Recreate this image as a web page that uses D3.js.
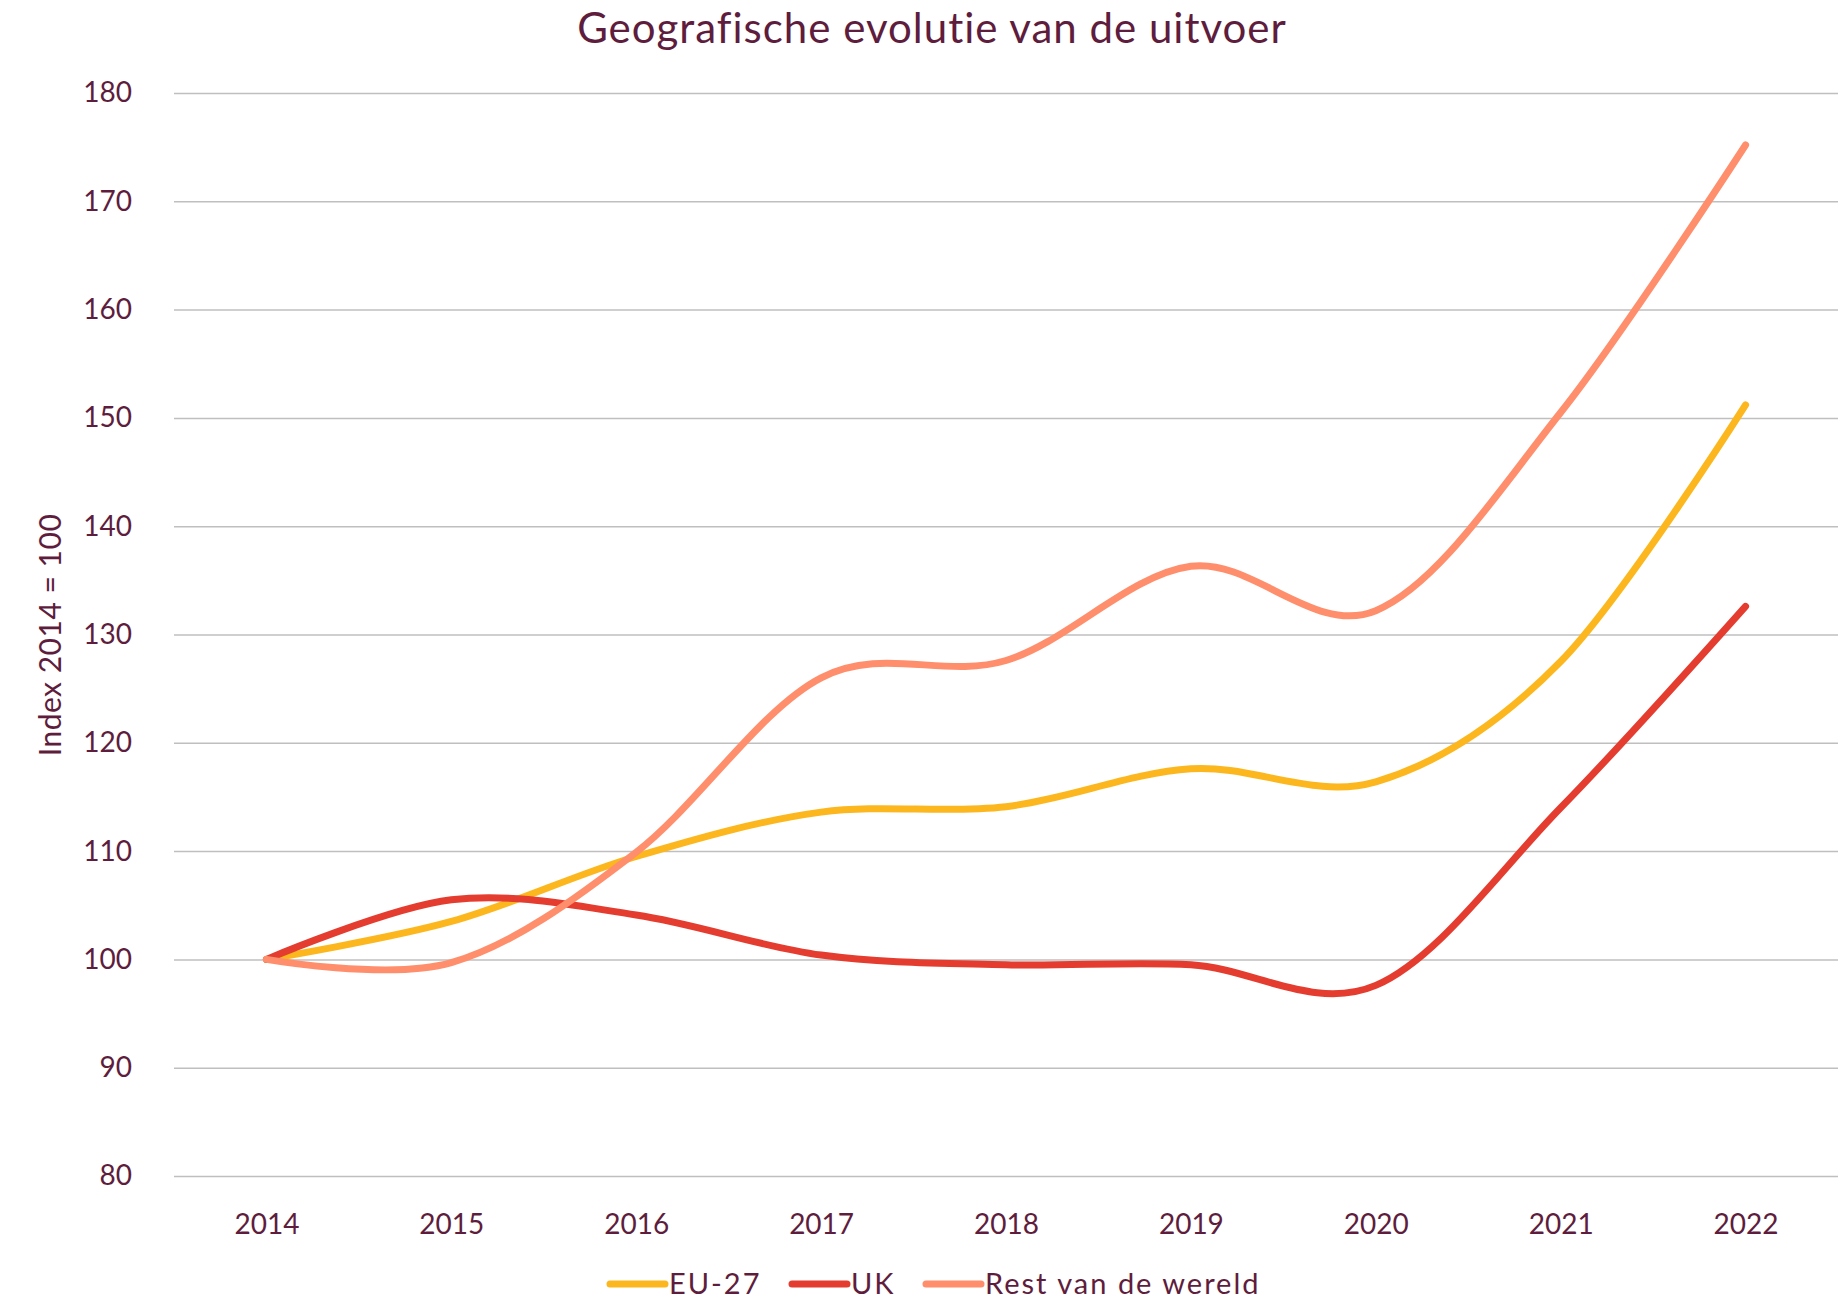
<!DOCTYPE html>
<html>
<head>
<meta charset="utf-8">
<script src="https://cdn.jsdelivr.net/npm/d3@7"></script>
<style>
    body { margin: 0; background: #fff; }
    svg text { font-family: Lato, "Noto Sans", sans-serif; fill: #5e1d3d; }
</style>
</head>
<body>
<div id="chart"></div>
<script>
// Data
const years = ['2014', '2015', '2016', '2017', '2018', '2019', '2020', '2021', '2022'];
const eu27 = [100, 103.5, 109.5, 113.6, 114.1, 117.6, 116.4, 127.5, 151.2];
const uk = [100, 105.5, 104.1, 100.4, 99.5, 99.5, 97.6, 114.0, 132.6];
const restWereld = [100, 99.7, 109.9, 126.0, 127.6, 136.3, 132.2, 150.5, 175.2];
const yTicks = [80, 90, 100, 110, 120, 130, 140, 150, 160, 170, 180];

const seriesNames = ['EU-27', 'UK', 'Rest van de wereld'];
const seriesColors = ['#fdb71e', '#e43d30', '#ff8e6c'];

const width = 1838;
const height = 1303;
const margin = { top: 93, right: 0, bottom: 127, left: 174 };

const svg = d3.select('#chart')
    .append('svg')
    .attr('width', width)
    .attr('height', height);

// Scales
const x = d3.scalePoint()
    .domain(years)
    .range([margin.left, width - margin.right])
    .padding(0.5);

const y = d3.scaleLinear()
    .domain([80, 180])
    .range([height - margin.bottom, margin.top]);

// Title
svg.append('text')
    .attr('x', 932)
    .attr('y', 43)
    .attr('text-anchor', 'middle')
    .attr('font-size', '42px')
    .attr('letter-spacing', '1px')
    .text('Geografische evolutie van de uitvoer');

// Gridlines + y axis
const yAxis = svg.append('g')
    .attr('transform', `translate(${margin.left},0)`)
    .call(d3.axisLeft(y)
        .tickValues(yTicks)
        .tickSize(-(width - margin.left - margin.right))
        .tickPadding(42));

yAxis.select('.domain').remove();
yAxis.selectAll('.tick line')
    .attr('stroke', '#bfbfbf')
    .attr('stroke-width', 1.5);
yAxis.selectAll('.tick text')
    .attr('font-size', '28px')
    .attr('fill', '#5e1d3d');

// X axis labels
const xAxis = svg.append('g')
    .attr('transform', `translate(0,${height - margin.bottom})`)
    .call(d3.axisBottom(x).tickSize(0).tickPadding(38));

xAxis.select('.domain').remove();
xAxis.selectAll('.tick text')
    .attr('font-size', '28px')
    .attr('fill', '#5e1d3d');

// Y axis title
svg.append('text')
    .attr('transform', `translate(61,635) rotate(-90)`)
    .attr('text-anchor', 'middle')
    .attr('font-size', '30px')
    .attr('letter-spacing', '0.5px')
    .text('Index 2014 = 100');

// Lines
const line = d3.line()
    .x((d, i) => x(years[i]))
    .y(d => y(d))
    .curve(d3.curveCardinal.tension(0));

const allSeries = [eu27, uk, restWereld];

svg.append('g')
    .selectAll('path')
    .data(allSeries)
    .join('path')
    .attr('d', line)
    .attr('fill', 'none')
    .attr('stroke', (d, i) => seriesColors[i])
    .attr('stroke-width', 7)
    .attr('stroke-linecap', 'round')
    .attr('stroke-linejoin', 'round');

// Legend
const legendX = [610, 792, 926];
const legend = svg.append('g')
    .attr('transform', `translate(0,1284)`);

const items = legend.selectAll('g')
    .data(seriesNames)
    .join('g')
    .attr('transform', (d, i) => `translate(${legendX[i]},0)`);

items.append('line')
    .attr('x1', 0)
    .attr('x2', 55)
    .attr('stroke', (d, i) => seriesColors[i])
    .attr('stroke-width', 7)
    .attr('stroke-linecap', 'round');

items.append('text')
    .attr('x', 59)
    .attr('dy', '0.35em')
    .attr('font-size', '29px')
    .attr('letter-spacing', '2px')
    .text(d => d);
</script>
</body>
</html>
